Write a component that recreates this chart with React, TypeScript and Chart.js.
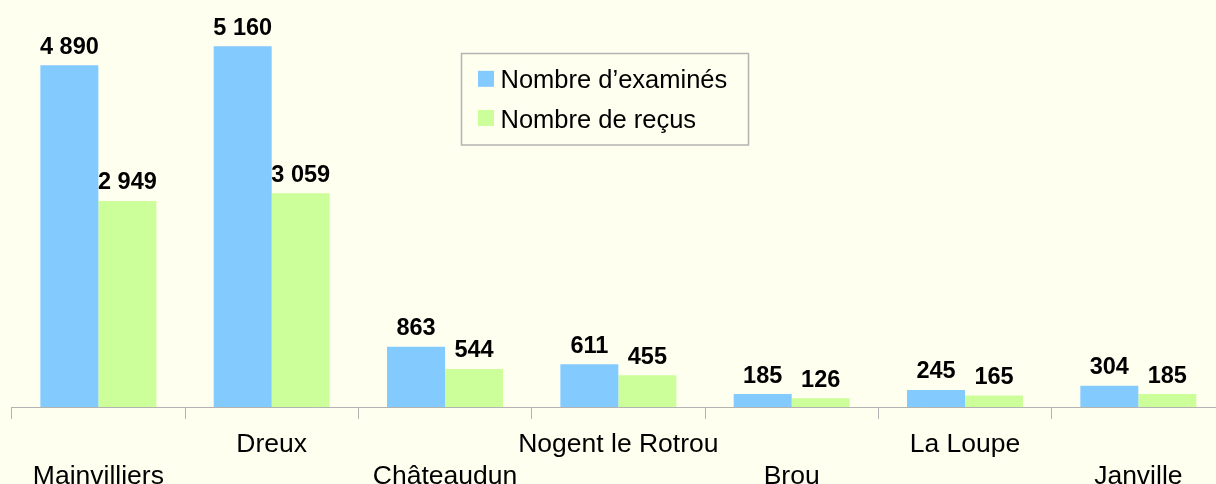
import React, { useEffect, useRef } from 'react';
import { Chart, registerables } from 'chart.js';

Chart.register(...registerables);

const categories = ['Mainvilliers', 'Dreux', 'Châteaudun', 'Nogent le Rotrou', 'Brou', 'La Loupe', 'Janville'];
const examinedValues = [4890, 5160, 863, 611, 185, 245, 304];
const passedValues = [2949, 3059, 544, 455, 126, 165, 185];
const seriesNames = ['Nombre d’examinés', 'Nombre de reçus'];
const seriesColors = ['#83CAFF', '#CCFF99'];
const yMax = 5800;

const FONT = '"Liberation Sans", Arial, sans-serif';

function fmt(v: number): string {
  return String(v).replace(/\B(?=(\d{3})+(?!\d))/g, ' ');
}

export default function App() {
  const ref = useRef<HTMLCanvasElement>(null);

  useEffect(() => {
    if (!ref.current) return;

    const bg = {
      id: 'bg',
      beforeDraw(c: any) {
        const ctx = c.ctx;
        ctx.save();
        ctx.fillStyle = '#FFFFF0';
        ctx.fillRect(0, 0, c.width, c.height);
        ctx.restore();
      },
    };

    const overlay = {
      id: 'overlay',
      afterDraw(c: any) {
        const ctx = c.ctx;
        ctx.save();
        // value labels
        ctx.font = `bold 23.5px ${FONT}`;
        ctx.fillStyle = '#000';
        ctx.textAlign = 'center';
        ctx.textBaseline = 'alphabetic';
        c.data.datasets.forEach((ds: any, i: number) => {
          const meta = c.getDatasetMeta(i);
          meta.data.forEach((bar: any, j: number) => {
            ctx.fillText(fmt(ds.data[j]), bar.x, bar.y - 11.5);
          });
        });
        // category labels (staggered)
        const xs = c.scales.x;
        const bottom = c.chartArea.bottom;
        ctx.font = `26.5px ${FONT}`;
        categories.forEach((name, j) => {
          const x = xs.getPixelForValue(j);
          const y = j % 2 === 0 ? bottom + 76.5 : bottom + 45;
          ctx.fillText(name, x, y);
        });
        // legend
        ctx.strokeStyle = '#b3b3b3';
        ctx.lineWidth = 1.5;
        ctx.strokeRect(461.5, 53.5, 287, 91.5);
        ctx.font = `25.5px ${FONT}`;
        ctx.textAlign = 'left';
        const rows = [88.3, 127.5];
        seriesNames.forEach((n, i) => {
          ctx.fillStyle = seriesColors[i];
          ctx.fillRect(478, rows[i] - 17.5, 16, 16);
          ctx.fillStyle = '#000';
          ctx.fillText(n, 500.5, rows[i]);
        });
        ctx.restore();
      },
    };

    const chart = new Chart(ref.current, {
      type: 'bar',
      data: {
        labels: categories,
        datasets: [
          {
            label: seriesNames[0],
            data: examinedValues,
            backgroundColor: seriesColors[0],
            borderWidth: 0,
            barPercentage: 1,
            categoryPercentage: 116 / 173.33,
          },
          {
            label: seriesNames[1],
            data: passedValues,
            backgroundColor: seriesColors[1],
            borderWidth: 0,
            barPercentage: 1,
            categoryPercentage: 116 / 173.33,
          },
        ],
      },
      options: {
        responsive: false,
        animation: false,
        layout: { padding: { left: 11.7, right: 15, top: 1.6, bottom: 0 } },
        plugins: {
          legend: { display: false },
          tooltip: { enabled: false },
        },
        scales: {
          x: {
            grid: {
              display: true,
              drawOnChartArea: false,
              drawTicks: true,
              tickLength: 12,
              color: '#b3b3b3',
              offset: true,
            },
            border: { display: true, color: '#b3b3b3', width: 1 },
            ticks: { display: false },
            afterFit(s: any) {
              s.height = 77;
            },
          },
          y: { display: false, min: 0, max: yMax },
        },
      },
      plugins: [bg, overlay],
    });

    return () => chart.destroy();
  }, []);

  return (
    <div style={{ position: 'fixed', left: 0, top: 0, width: 1216, height: 484, overflow: 'hidden', background: '#FFFFF0' }}>
      <canvas ref={ref} width={1240} height={484} style={{ display: 'block', width: 1240, height: 484 }} />
    </div>
  );
}
